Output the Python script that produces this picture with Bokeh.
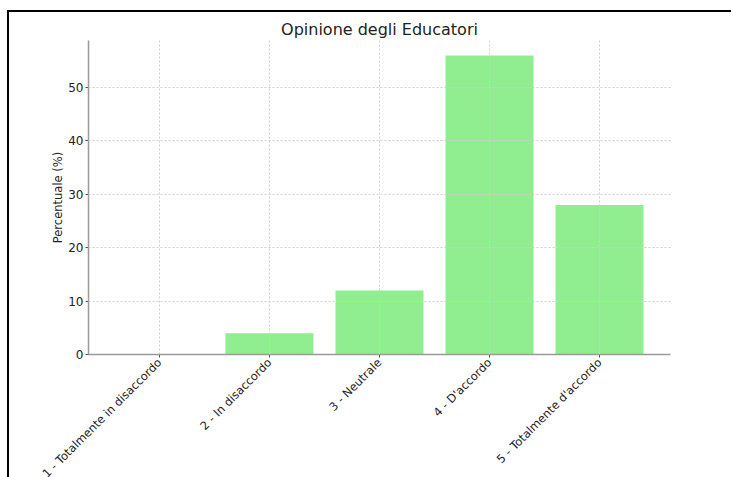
from bokeh.plotting import figure
from bokeh.models import FactorRange, Range1d, FixedTicker
from bokeh.embed import file_html
from bokeh.resources import INLINE
import math

categories = ["1 - Totalmente in disaccordo", "2 - In disaccordo", "3 - Neutrale",
              "4 - D'accordo", "5 - Totalmente d'accordo"]
percentages = [0, 4, 12, 56, 28]
y_ticks = [0, 10, 20, 30, 40, 50]

FONT = "DejaVu Sans"

p = figure(
    width=724, height=476,
    x_range=FactorRange(factors=categories, range_padding=0.145, range_padding_units="absolute"),
    y_range=Range1d(0, 58.8),
    output_backend="svg", toolbar_location=None,
    title="Opinione degli Educatori",
    min_border_left=79, min_border_right=63, min_border_top=28, min_border_bottom=20,
)
p.styles = {"border-top": "2px solid black", "border-left": "2px solid black",
            "margin-top": "10px", "margin-left": "7px"}

p.vbar(x=categories, top=percentages, width=0.8, fill_color="#90EE90", line_color=None)

p.title.align = "center"
p.title.text_font = FONT
p.title.text_font_size = "16px"
p.title.text_font_style = "normal"
p.title.text_color = "#222222"
p.title.offset = 0
p.title.standoff = 4

p.outline_line_color = None
p.background_fill_color = "white"
p.border_fill_color = "white"

for g in (p.xgrid, p.ygrid):
    g.grid_line_color = "#cfcfcf"
    g.grid_line_dash = "2 2"
    g.grid_line_width = 1
    g.level = "overlay"

p.yaxis.ticker = FixedTicker(ticks=y_ticks)
p.yaxis.axis_label = "Percentuale (%)"
p.yaxis.axis_label_text_font = FONT
p.yaxis.axis_label_text_font_size = "11.5px"
p.yaxis.axis_label_text_font_style = "normal"
p.yaxis.axis_label_text_color = "#222222"
p.yaxis.axis_label_standoff = 0

for ax in (p.xaxis, p.yaxis):
    ax.axis_line_color = "#9a9a9a"
    ax.axis_line_width = 1.5
    ax.major_tick_line_color = "#555555"
    ax.major_tick_out = 3
    ax.major_tick_in = 0
    ax.minor_tick_line_color = None
    ax.major_label_text_font = FONT
    ax.major_label_text_color = "#222222"

p.yaxis.major_label_text_font_size = "12px"
p.yaxis.major_label_standoff = 2
p.xaxis.major_label_text_font_size = "11.5px"
p.xaxis.major_label_standoff = 3
p.xaxis.major_label_orientation = math.pi / 4

open("out.html", "w").write(file_html(p, INLINE))
